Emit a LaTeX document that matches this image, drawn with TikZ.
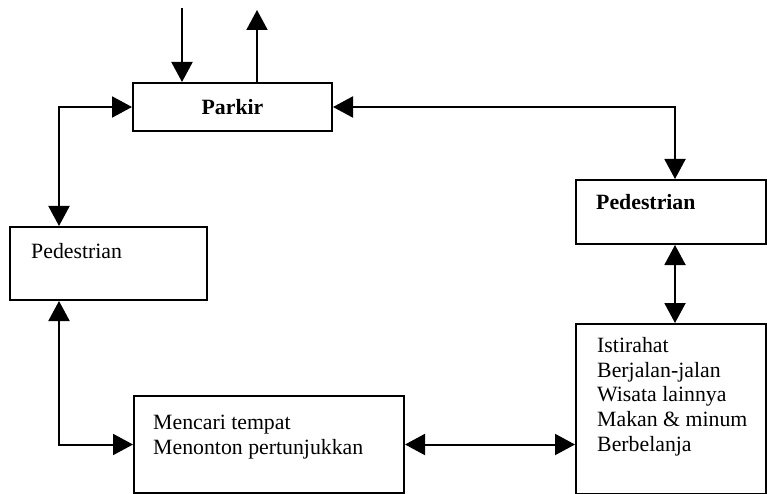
\documentclass[tikz,border=0pt]{standalone}
\usepackage{fontspec}
\setmainfont{Liberation Serif}
\usetikzlibrary{
    arrows.meta,
    calc,
    positioning
}

\begin{document}
\begin{tikzpicture}[x=1pt, y=-1pt, >={Triangle[length=20pt, width=21pt]},
    box/.style={draw, line width=2pt, rectangle, anchor=north west, inner sep=0pt},
    lbl/.style={anchor=base west, inner sep=0pt, align=left,
                font=\fontsize{21.8}{24.7}\selectfont},
    link/.style={line width=2pt}]
    \useasboundingbox (0,0) rectangle (767,494);
    % boxes
    \node[box, minimum width=199pt, minimum height=48pt,
          font=\fontsize{21.8}{24.7}\selectfont\bfseries] (park) at (132,82) {Parkir};
    \node[box, minimum width=197pt, minimum height=73pt] (pedL) at (9,226) {};
    \node[box, minimum width=190pt, minimum height=64pt] (pedR) at (575,179) {};
    \node[box, minimum width=190pt, minimum height=170pt] (act) at (575,323) {};
    \node[box, minimum width=270pt, minimum height=97pt] (show) at (133,395) {};
    % texts
    \node[lbl] (pedLtxt) at ($(pedL.north west)+(22,32)$) {Pedestrian};
    \node[lbl, font=\fontsize{21.8}{24.7}\selectfont\bfseries] (pedRtxt)
        at ($(pedR.north west)+(21,30)$) {Pedestrian};
    \node[lbl, anchor=north west] (acttxt) at ($(act.north west)+(22,14)$)
        {Istirahat\\Berjalan-jalan\\Wisata lainnya\\Makan \& minum\\Berbelanja};
    \node[lbl, anchor=north west] (showtxt) at ($(show.north west)+(20,20)$)
        {Mencari tempat\\Menonton pertunjukkan};
    % in / out of the parking
    \coordinate (comeIn) at (182,8);
    \coordinate (goOut) at (257,10);
    \draw[link, ->] (comeIn) -- (comeIn |- park.north);
    \draw[link, ->] (goOut |- park.north) -- (goOut);
    % links between boxes
    \draw[link, <->] (park.west) -| ([xshift=50pt]pedL.north west);
    \draw[link, <->] (park.east) -| ([xshift=100pt]pedR.north west);
    \draw[link, <->] ([xshift=100pt]pedR.south west) -- ([xshift=100pt]act.north west);
    \draw[link, <->] ([xshift=50pt]pedL.south west) |- (show.west);
    \draw[link, <->] (show.east) -- (show.east -| act.west);
\end{tikzpicture}
\end{document}
